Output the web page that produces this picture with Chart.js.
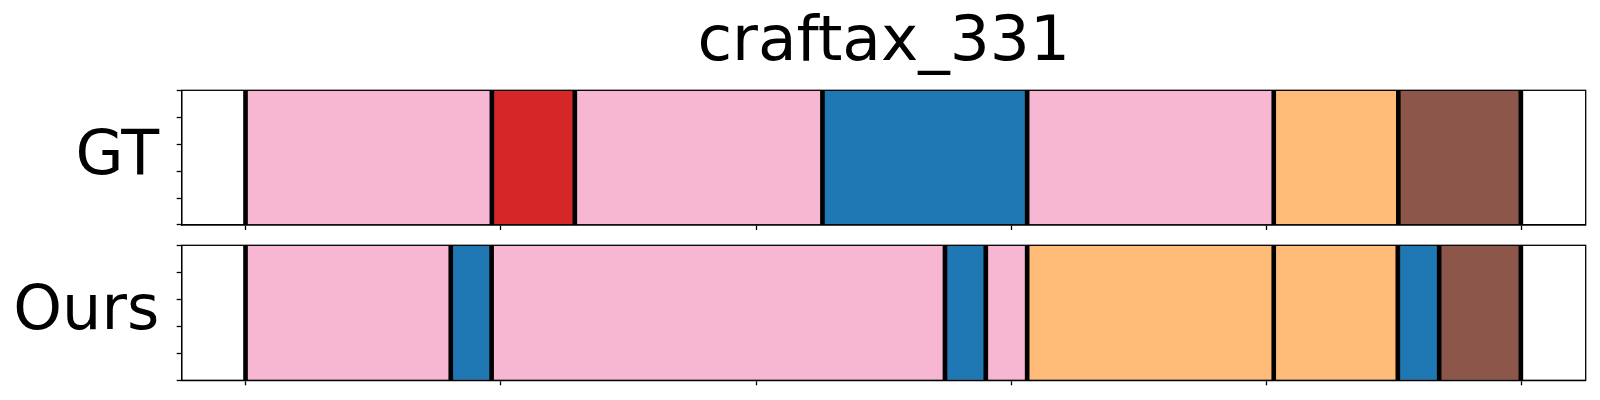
<!DOCTYPE html>
<html>
<head>
<meta charset="utf-8">
<script src="https://cdn.jsdelivr.net/npm/chart.js@4.4.1/dist/chart.umd.min.js"></script>
<style>
  html, body { margin: 0; padding: 0; background: #fff; }
  body { width: 1600px; height: 400px; position: relative; overflow: hidden; }
  canvas { position: absolute; left: 0; }
</style>
</head>
<body>
<canvas id="gtChart" width="1600" height="235" style="top:0"></canvas>
<canvas id="oursChart" width="1600" height="165" style="top:235px"></canvas>
<script>
const chartTitle = 'craftax_331';
const rowLabels = ['GT', 'Ours'];

// segments: start / end frame and action class for each row
const gtStart = [0, 48.25, 64.5, 113, 153.1, 201.4, 225.8];
const gtEnd = [48.25, 64.5, 113, 153.1, 201.4, 225.8, 249.8];
const gtClass = ['pink', 'red', 'pink', 'blue', 'pink', 'orange', 'brown'];

const oursStart = [0, 40.2, 48.2, 137, 145, 153.1, 201.4, 225.7, 233.8];
const oursEnd = [40.2, 48.2, 137, 145, 153.1, 201.4, 225.7, 233.8, 249.8];
const oursClass = ['pink', 'blue', 'pink', 'blue', 'pink', 'orange', 'orange', 'blue', 'brown'];

const xTicks = [0, 50, 100, 150, 200, 250];
const yTicks = [0, 0.25, 0.5, 0.75, 1];

const classColors = {
  pink: '#f7b6d2',
  red: '#d62728',
  blue: '#1f77b4',
  orange: '#ffbb78',
  brown: '#8c564b',
};

const FONT = "'DejaVu Sans', sans-serif";

// frame around the plot area + big row label on the left
const framePlugin = {
  id: 'frame',
  afterDraw(chart, args, opts) {
    let ctx = chart.ctx;
    let a = chart.chartArea;
    ctx.save();
    ctx.strokeStyle = '#000';
    ctx.lineWidth = 1.3;
    ctx.strokeRect(a.left, a.top, a.right - a.left, a.bottom - a.top);
    ctx.fillStyle = '#000';
    ctx.font = '62px ' + FONT;
    ctx.textAlign = 'right';
    ctx.textBaseline = 'alphabetic';
    ctx.fillText(opts.label, a.left - 22.5, (a.top + a.bottom) / 2 + 16.5);
    ctx.restore();
  },
};

function buildChart(canvasId, label, starts, ends, classes, opts) {
  let segs = starts.map(function (s, i) {
    return { x: [s, ends[i]], y: label };
  });
  // boundaries drawn as thick black separators
  let bounds = starts.concat([ends[ends.length - 1]]);
  let sepHalf = 0.39;
  let seps = bounds.map(function (b) {
    return { x: [b - sepHalf, b + sepHalf], y: label };
  });

  return new Chart(document.getElementById(canvasId), {
    type: 'bar',
    data: {
      labels: [label],
      datasets: [
        {
          data: segs,
          order: 2,
          backgroundColor: classes.map(function (c) { return classColors[c]; }),
          borderColor: 'rgba(0,0,0,0.12)',
          borderWidth: 1,
          borderSkipped: false,
          grouped: false,
          barPercentage: 1,
          categoryPercentage: 1,
        },
        {
          data: seps,
          order: 1,
          backgroundColor: '#000',
          borderWidth: 0,
          grouped: false,
          barPercentage: 1,
          categoryPercentage: 1,
        },
      ],
    },
    options: {
      indexAxis: 'y',
      responsive: false,
      animation: false,
      layout: {
        padding: { left: 0, right: 14.3, top: opts.padTop, bottom: 0 },
      },
      plugins: {
        legend: { display: false },
        tooltip: { enabled: false },
        title: {
          display: !!opts.title,
          text: opts.title || '',
          fullSize: false,
          color: '#000',
          font: { size: 63, family: FONT, weight: 'normal' },
          padding: { top: 6, bottom: 8.7 },
        },
        frame: { label: label },
      },
      scales: {
        x: {
          type: 'linear',
          min: -12.5,
          max: 262.5,
          position: 'bottom',
          ticks: { display: false },
          grid: { drawOnChartArea: false, tickLength: 5, tickColor: '#000', tickWidth: 1.3 },
          border: { color: '#000', width: 1.3 },
          afterBuildTicks(scale) {
            scale.ticks = xTicks.map(function (v) { return { value: v }; });
          },
          afterFit(scale) {
            scale.height = opts.xHeight;
          },
        },
        y: {
          type: 'category',
          display: false,
        },
        yt: {
          type: 'linear',
          position: 'left',
          min: 0,
          max: 1,
          ticks: { display: false },
          grid: { drawOnChartArea: false, tickLength: 5, tickColor: '#000', tickWidth: 1.3 },
          border: { color: '#000', width: 1.3 },
          afterBuildTicks(scale) {
            scale.ticks = yTicks.map(function (v) { return { value: v }; });
          },
          afterFit(scale) {
            scale.width = 181.7;
          },
        },
      },
    },
    plugins: [framePlugin],
  });
}

buildChart('gtChart', rowLabels[0], gtStart, gtEnd, gtClass, { title: chartTitle, padTop: 0, xHeight: 10 });
buildChart('oursChart', rowLabels[1], oursStart, oursEnd, oursClass, { padTop: 10.3, xHeight: 19.7 });
</script>
</body>
</html>
